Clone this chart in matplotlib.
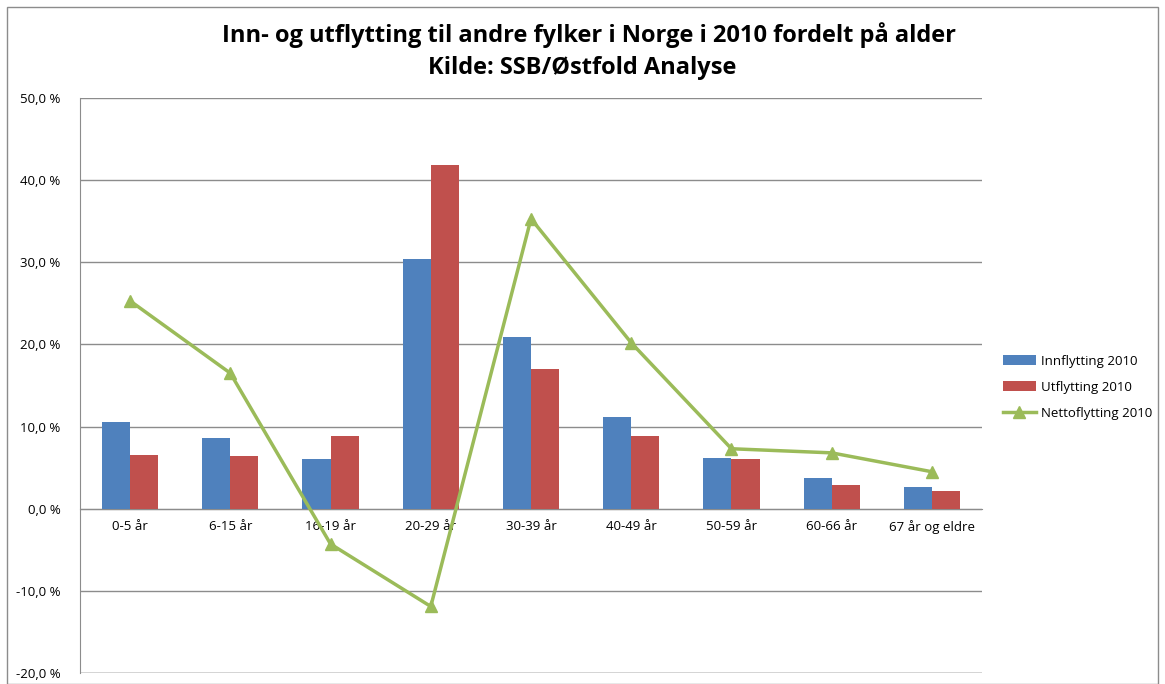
import matplotlib
matplotlib.use('Agg')
import matplotlib.pyplot as plt
import numpy as np
from matplotlib.ticker import FuncFormatter

plt.rcParams['font.family'] = ['Open Sans', 'DejaVu Sans']

categories = ['0-5 år', '6-15 år', '16-19 år', '20-29 år', '30-39 år',
              '40-49 år', '50-59 år', '60-66 år', '67 år og eldre']
innflytting = [10.6, 8.6, 6.0, 30.4, 20.9, 11.2, 6.2, 3.8, 2.6]
utflytting = [6.6, 6.4, 8.8, 41.8, 17.0, 8.9, 6.0, 2.9, 2.1]
netto = [25.3, 16.5, -4.3, -11.9, 35.3, 20.2, 7.3, 6.8, 4.5]

fig = plt.figure(figsize=(11.65, 6.84), dpi=100)
ax = fig.add_axes([80/1165, 1-673/684, (982-80)/1165, (673-98)/684])

x = np.arange(len(categories))
w = 0.28
b1 = ax.bar(x - w/2, innflytting, w, color='#4F81BD', label='Innflytting 2010', zorder=3)
b2 = ax.bar(x + w/2, utflytting, w, color='#C0504D', label='Utflytting 2010', zorder=3)
l1, = ax.plot(x, netto, color='#9BBB59', lw=2.5, marker='^', markersize=9,
              label='Nettoflytting 2010', zorder=4)

ax.set_xlim(-0.5, len(categories) - 0.5)
ax.set_ylim(-20, 50)
ax.set_yticks(np.arange(-20, 51, 10))
ax.yaxis.set_major_formatter(FuncFormatter(lambda v, p: ('%.1f' % v).replace('.', ',') + ' %'))
ax.grid(axis='y', color='#8c8c8c', lw=1, zorder=0)
ax.tick_params(axis='y', length=0, labelsize=9.5, pad=14)
ax.tick_params(axis='x', length=0, labelsize=9.5, pad=8)
ax.set_xticks(x)
ax.set_xticklabels(categories)
ax.spines['bottom'].set_position(('data', 0))
ax.spines['bottom'].set_color('#8c8c8c')
ax.spines['top'].set_visible(False)
ax.spines['right'].set_visible(False)
ax.spines['left'].set_color('#8c8c8c')
ax.axhline(-20, color='#8c8c8c', lw=1, zorder=0)

fig.text(0.506, 0.948, 'Inn- og utflytting til andre fylker i Norge i 2010 fordelt på alder',
         ha='center', va='center', fontsize=17, fontweight='bold')
fig.text(0.5, 0.9, 'Kilde: SSB/Østfold Analyse',
         ha='center', va='center', fontsize=17, fontweight='bold')

ax.legend([b1, b2, l1], ['Innflytting 2010', 'Utflytting 2010', 'Nettoflytting 2010'],
          loc='center left', bbox_to_anchor=(1.01, 0.497), frameon=False, fontsize=9.5,
          handlelength=2.5, labelspacing=1.0, handletextpad=0.4)

border = plt.Rectangle((7/1165, 0), 1 - 14/1165, 1 - 7/684, transform=fig.transFigure,
                       fill=False, edgecolor='#8c8c8c', lw=1)
fig.patches.append(border)

fig.savefig('out.png', dpi=100)
